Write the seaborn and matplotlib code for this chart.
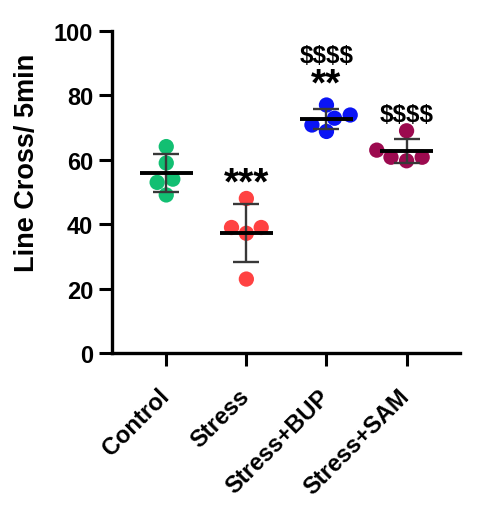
import numpy as np
import pandas as pd
import matplotlib
matplotlib.use("Agg")
import matplotlib.pyplot as plt
import matplotlib.transforms as mtransforms
import seaborn as sns

# group names and per-animal values
groups = ["Control", "Stress", "Stress+BUP", "Stress+SAM"]
control = [64.1, 59.0, 54.0, 53.0, 49.1]
stress = [48.0, 39.0, 39.0, 37.2, 23.0]
stress_bup = [73.9, 77.0, 72.9, 70.8, 68.8]
stress_sam = [69.0, 63.0, 60.8, 60.8, 59.7]
colors = ["#12bf72", "#ff4242", "#0a14f5", "#9c0a4f"]
# significance marks: vs control (stars) and vs stress (dollars)
stars = ["", "***", "**", ""]
stars_y = [0, 52.8, 83.5, 0]
dollars = ["", "", "$$$$", "$$$$"]
dollars_y = [0, 0, 92.5, 74.0]

values = [control, stress, stress_bup, stress_sam]
df = pd.DataFrame({
    "group": np.repeat(groups, [len(v) for v in values]),
    "value": np.concatenate(values),
})

sns.set_style("ticks")
plt.rcParams["font.family"] = ["Liberation Sans", "DejaVu Sans"]
plt.rcParams["font.weight"] = "bold"
plt.rcParams["text.color"] = "black"
plt.rcParams["axes.labelcolor"] = "black"
plt.rcParams["xtick.color"] = "black"
plt.rcParams["ytick.color"] = "black"
plt.rcParams["axes.edgecolor"] = "black"

fig = plt.figure(figsize=(4.86, 5.06), dpi=100)
ax = fig.add_axes([0.230, 0.300, 0.717, 0.637])

sns.swarmplot(data=df, x="group", y="value", hue="group", palette=colors,
              size=11, legend=False, ax=ax, zorder=2)

# mean +/- SD
for i, v in enumerate(values):
    m = np.mean(v)
    sd = np.std(v, ddof=1)
    ax.errorbar(i, m, yerr=sd, fmt="none", ecolor="#383838", elinewidth=1.7,
                capsize=9.5, capthick=1.7, zorder=3)
    ax.hlines(m, i - 0.33, i + 0.33, color="black", lw=2.8, zorder=4)
    if stars[i]:
        ax.text(i, stars_y[i], stars[i], ha="center", va="center",
                fontsize=28, fontweight="bold")
    if dollars[i]:
        ax.text(i, dollars_y[i], dollars[i], ha="center", va="center",
                fontsize=17.5, fontweight="bold", parse_math=False)

ax.set_xlim(-0.68, 3.67)
ax.set_ylim(0, 100)
ax.set_yticks([0, 20, 40, 60, 80, 100])
ax.set_xlabel("")
ax.set_ylabel("Line Cross/ 5min", fontsize=19.5, fontweight="bold")
ax.yaxis.set_label_coords(-0.205, 0.595)
ax.tick_params(axis="both", width=2.2, length=9.5, pad=4, labelsize=17)
ax.tick_params(axis="x", pad=13)
shift = mtransforms.ScaledTranslation(-9 / 100, 0, fig.dpi_scale_trans)
for lab in ax.get_xticklabels():
    lab.set_rotation(45)
    lab.set_ha("right")
    lab.set_rotation_mode("anchor")
    lab.set_fontweight("bold")
    lab.set_transform(lab.get_transform() + shift)
plt.setp(ax.get_yticklabels(), fontweight="bold")
for s in ["left", "bottom"]:
    ax.spines[s].set_linewidth(2.4)
sns.despine(ax=ax)

fig.savefig("out.png", dpi=100)
